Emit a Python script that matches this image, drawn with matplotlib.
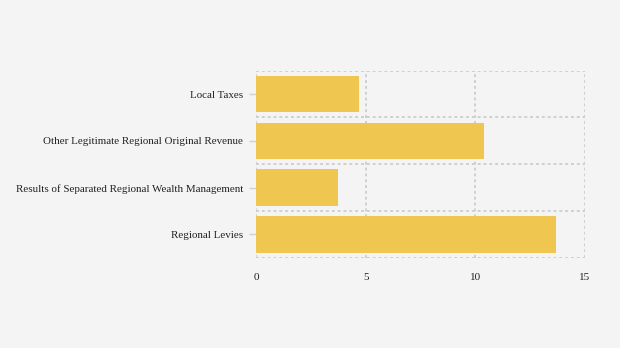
import matplotlib.pyplot as plt
import numpy as np

categories = ["Regional Levies",
              "Results of Separated Regional Wealth Management",
              "Other Legitimate Regional Original Revenue",
              "Local Taxes"]
values = [13.7, 3.75, 10.4, 4.7]
xticks = [0, 5, 10, 15]

bg = "#f4f4f4"
bar_color = "#efc750"
grid_color = "#d0d0d0"

plt.rcParams['font.family'] = ['Liberation Serif', 'DejaVu Serif']

fig = plt.figure(figsize=(6.2, 3.48), dpi=100, facecolor=bg)
ax = fig.add_axes([0.413, 0.259, 0.530, 0.538], facecolor=bg)

y = np.arange(len(categories))
ax.barh(y, values, height=0.78, color=bar_color, zorder=2)

ax.set_xlim(0, 15)
ax.set_ylim(-0.5, len(categories) - 0.5)
ax.set_xticks(xticks)
ax.set_xticklabels([str(t) for t in xticks])
ax.set_yticks(y)
ax.set_yticklabels(categories)

# dashed grid: vertical at x ticks, horizontal between bands
for t in xticks:
    ax.axvline(t, color=grid_color, lw=1.4, ls=(0, (1.5, 1.5)), zorder=1)
for b in np.arange(-0.5, len(categories), 1.0):
    ax.axhline(b, color=grid_color, lw=1.4, ls=(0, (1.5, 1.5)), zorder=1)

for s in ax.spines.values():
    s.set_visible(False)

ax.tick_params(axis='x', length=0, pad=11, labelsize=8, colors='#222222')
ax.tick_params(axis='y', length=5, width=1, color=grid_color, pad=4.4,
               labelsize=7.9, labelcolor='#222222')

fig.savefig("out.png", dpi=100, facecolor=bg)
